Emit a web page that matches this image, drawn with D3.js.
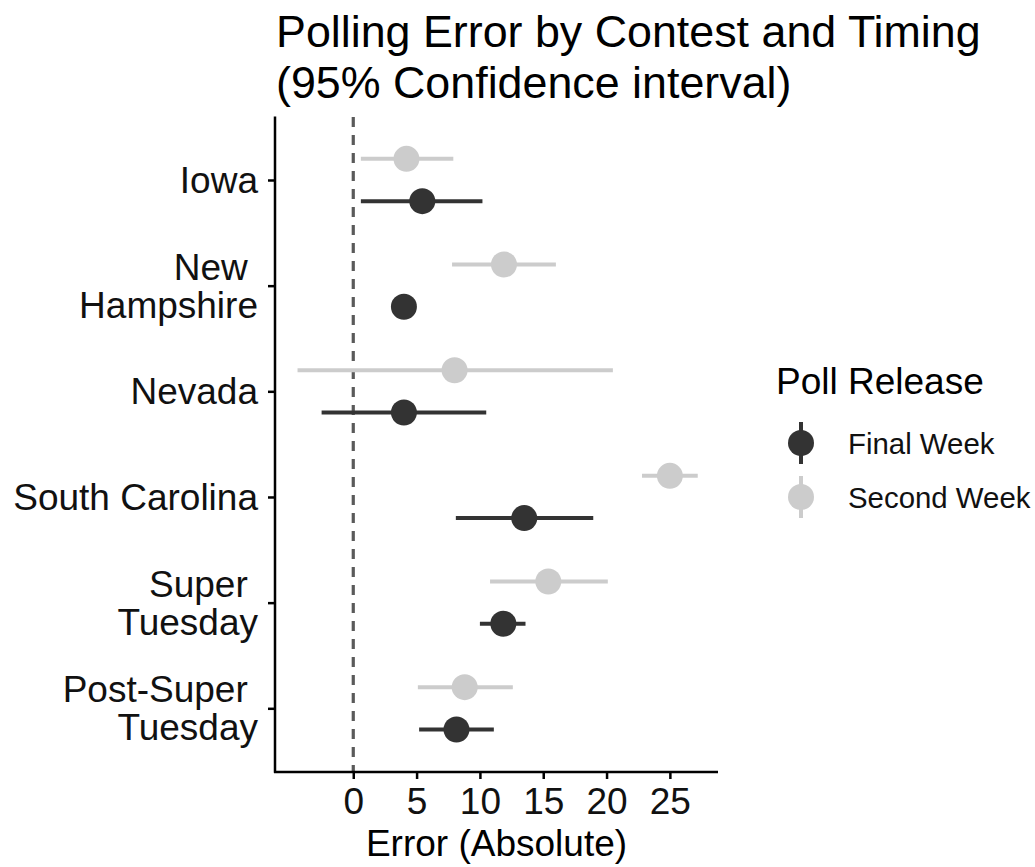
<!DOCTYPE html>
<html>
<head>
<meta charset="utf-8">
<script src="https://cdn.jsdelivr.net/npm/d3@7"></script>
<style>
  body { margin: 0; background: #fff; }
  text { font-family: "Liberation Sans", Arial, sans-serif; }
</style>
</head>
<body>
<svg id="chart" width="1035" height="867"></svg>
<script>
const contests = ['Iowa', 'New Hampshire', 'Nevada', 'South Carolina', 'Super Tuesday', 'Post-Super Tuesday']
const contestLines = [['Iowa'], ['New ', 'Hampshire'], ['Nevada'], ['South Carolina'], ['Super ', 'Tuesday'], ['Post-Super ', 'Tuesday']]

const finalEst = [5.45, 4.0, 4.0, 13.5, 11.85, 8.15]
const finalLow = [0.6, 3.5, -2.5, 8.1, 10.0, 5.2]
const finalHigh = [10.2, 4.5, 10.5, 18.95, 13.6, 11.1]

const secondEst = [4.2, 11.9, 8.0, 25.0, 15.4, 8.8]
const secondLow = [0.6, 7.8, -4.4, 22.8, 10.8, 5.1]
const secondHigh = [7.9, 16.0, 20.5, 27.2, 20.1, 12.6]

const releases = ['Final Week', 'Second Week']
const releaseColors = ['#333333', '#cccccc']
const xTicks = [0, 5, 10, 15, 20, 25]

const svg = d3.select('#chart')

const x = d3.scaleLinear().domain([-6.18, 28.8]).range([275, 718])
const y = d3.scalePoint().domain(contests).range([116.6, 771.7]).padding(0.6)
const color = d3.scaleOrdinal().domain(releases).range(releaseColors)
const dodge = 0.2 * y.step()

const rows = []
contests.forEach((c, i) => {
  rows.push({contest: c, release: 'Second Week', est: secondEst[i], lo: secondLow[i], hi: secondHigh[i], dy: -dodge})
  rows.push({contest: c, release: 'Final Week', est: finalEst[i], lo: finalLow[i], hi: finalHigh[i], dy: dodge})
})

// title
svg.append('text')
  .attr('x', 276).attr('y', 47)
  .style('font-size', '44.8px')
  .text('Polling Error by Contest and Timing')
svg.append('text')
  .attr('x', 276).attr('y', 98)
  .style('font-size', '44.8px')
  .text('(95% Confidence interval)')

// zero reference line
svg.append('line')
  .attr('x1', x(0)).attr('x2', x(0))
  .attr('y1', 117).attr('y2', 772)
  .attr('stroke', '#5a5a5a')
  .attr('stroke-width', 3.2)
  .attr('stroke-dasharray', '10,8')

// point ranges
const g = svg.append('g').selectAll('g').data(rows).enter().append('g')
g.append('line')
  .attr('x1', d => x(d.lo)).attr('x2', d => x(d.hi))
  .attr('y1', d => y(d.contest) + d.dy).attr('y2', d => y(d.contest) + d.dy)
  .attr('stroke', d => color(d.release))
  .attr('stroke-width', 4)
g.append('circle')
  .attr('cx', d => x(d.est))
  .attr('cy', d => y(d.contest) + d.dy)
  .attr('r', 13)
  .attr('fill', d => color(d.release))

// axes
const xAxis = svg.append('g')
  .attr('transform', 'translate(0,772)')
  .call(d3.axisBottom(x).tickValues(xTicks).tickSize(7).tickPadding(9))
xAxis.select('.domain').attr('stroke', '#000').attr('stroke-width', 2.5)
  .attr('d', `M${x.range()[0] - 1},0H${x.range()[1]}`)
xAxis.selectAll('.tick line').attr('stroke', '#000').attr('stroke-width', 2.5)
xAxis.selectAll('.tick text')
  .style('font-size', '37px').attr('fill', '#111')
  .style('font-family', '"Liberation Sans", Arial, sans-serif')

const yAxis = svg.append('g')
  .attr('transform', 'translate(275,0)')
  .call(d3.axisLeft(y).tickSize(7).tickFormat(''))
yAxis.select('.domain').attr('stroke', '#000').attr('stroke-width', 2.5)
  .attr('d', `M0,${y.range()[0]}V${y.range()[1] + 1}`)
yAxis.selectAll('.tick line').attr('stroke', '#000').attr('stroke-width', 2.5)

const yLabels = svg.append('g').selectAll('text').data(contests).enter().append('text')
  .attr('text-anchor', 'end')
  .attr('xml:space', 'preserve')
  .style('white-space', 'pre')
  .style('font-size', '37px')
  .attr('fill', '#111')
yLabels.each(function (c, i) {
  const lines = contestLines[i]
  const base = y(c) + 13 - (lines.length - 1) * 19
  d3.select(this).selectAll('tspan').data(lines).enter().append('tspan')
    .attr('x', 258)
    .attr('y', (l, j) => base + j * 38)
    .text(l => l)
})

svg.append('text')
  .attr('x', (x.range()[0] + x.range()[1]) / 2).attr('y', 856)
  .attr('text-anchor', 'middle')
  .style('font-size', '37px')
  .text('Error (Absolute)')

// legend
svg.append('text')
  .attr('x', 776).attr('y', 394)
  .style('font-size', '37px')
  .text('Poll Release')

const legend = svg.append('g').selectAll('g').data(releases).enter().append('g')
  .attr('transform', (d, i) => `translate(801,${443 + i * 54})`)
legend.append('line')
  .attr('y1', -21).attr('y2', 21)
  .attr('stroke', d => color(d))
  .attr('stroke-width', 4)
legend.append('circle')
  .attr('r', 13)
  .attr('fill', d => color(d))
legend.append('text')
  .attr('x', 47).attr('y', 11)
  .style('font-size', '29.4px')
  .attr('fill', '#111')
  .text(d => d)
</script>
</body>
</html>
